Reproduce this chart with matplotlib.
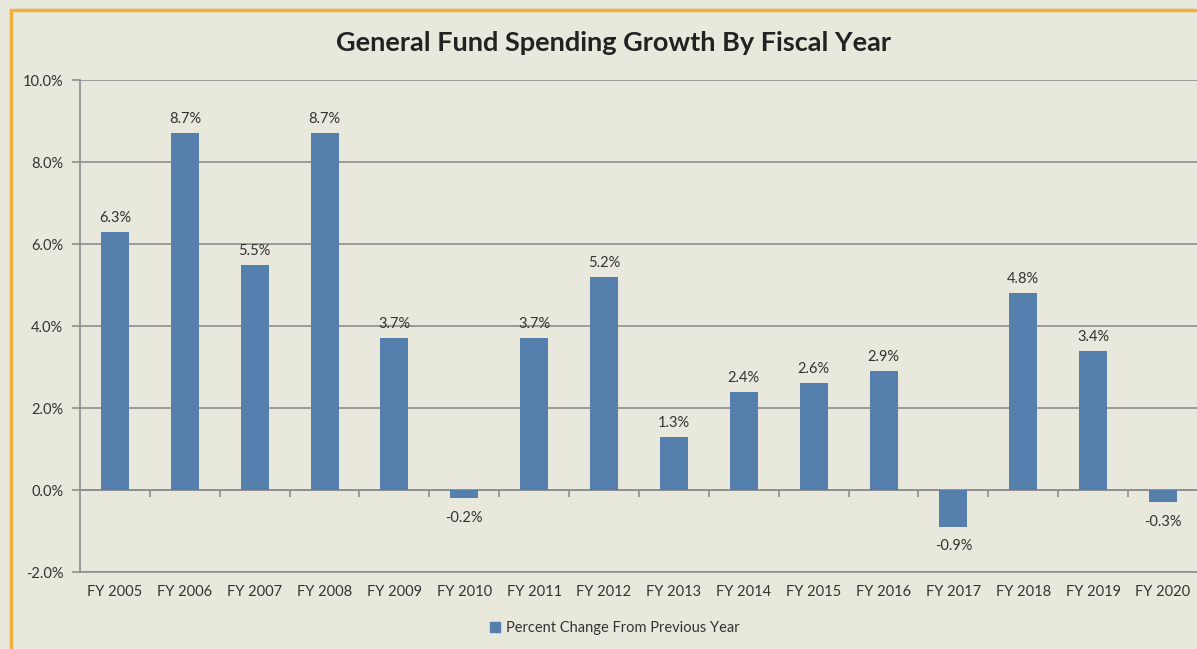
import matplotlib
matplotlib.use("Agg")
import matplotlib.pyplot as plt
from matplotlib.patches import Rectangle
from matplotlib.ticker import FuncFormatter
import numpy as np

years = ["FY 2005", "FY 2006", "FY 2007", "FY 2008", "FY 2009", "FY 2010",
         "FY 2011", "FY 2012", "FY 2013", "FY 2014", "FY 2015", "FY 2016",
         "FY 2017", "FY 2018", "FY 2019", "FY 2020"]
growth = [6.3, 8.7, 5.5, 8.7, 3.7, -0.2, 3.7, 5.2, 1.3, 2.4, 2.6, 2.9,
          -0.9, 4.8, 3.4, -0.3]
y_ticks = [-2, 0, 2, 4, 6, 8, 10]

bg = "#E9E8DC"
bar_color = "#5580AD"
grid_color = "#8E8E8E"
text_color = "#333333"

plt.rcParams["font.family"] = ["Lato", "DejaVu Sans"]

fig = plt.figure(figsize=(11.97, 6.49), dpi=100, facecolor=bg)

# orange frame (left and top visible, the rest is cut off)
fig.patches.append(Rectangle((11 / 1197, -0.1), 1.2, 1 - 10 / 649 + 0.1,
                             transform=fig.transFigure, fill=False,
                             edgecolor="#F0B040", linewidth=2.5))

ax = fig.add_axes([80 / 1197, 1 - 572 / 649, 1118 / 1197, (572 - 80) / 649])
ax.set_facecolor(bg)

x = np.arange(len(years))
ax.bar(x, growth, width=0.4, color=bar_color, zorder=3)

ax.set_xlim(-0.5, len(years) - 0.5)
ax.set_ylim(-2, 10)
ax.set_yticks(y_ticks)
ax.yaxis.set_major_formatter(FuncFormatter(lambda v, p: f"{v:.1f}%"))
ax.yaxis.grid(True, color=grid_color, linewidth=1.2, zorder=0)
ax.tick_params(axis="y", length=6, width=1.2, color=grid_color,
               labelsize=10.5, labelcolor=text_color, pad=6)

ax.set_xticks(x)
ax.set_xticklabels(years)
ax.tick_params(axis="x", length=0, labelsize=10.5, labelcolor=text_color, pad=9)

for side in ["top", "right"]:
    ax.spines[side].set_visible(False)
ax.spines["left"].set_color(grid_color)
ax.spines["left"].set_linewidth(1.2)
ax.spines["bottom"].set_color(grid_color)
ax.spines["bottom"].set_linewidth(1.2)

# category axis with tick marks at the zero line
sec = ax.secondary_xaxis(2 / 12)
sec.set_xticks(np.arange(0.5, len(years) - 0.5, 1))
sec.set_xticklabels([])
sec.tick_params(axis="x", length=5, width=1.2, color=grid_color, direction="out")
sec.spines["bottom"].set_color(grid_color)
sec.spines["bottom"].set_linewidth(1.2)

for xi, v in zip(x, growth):
    if v >= 0:
        ax.annotate(f"{v:.1f}%", (xi, v), xytext=(0, 5), textcoords="offset points",
                    ha="center", va="bottom", fontsize=10.5, color=text_color)
    else:
        ax.annotate(f"{v:.1f}%", (xi, v), xytext=(0, -9), textcoords="offset points",
                    ha="center", va="top", fontsize=10.5, color=text_color)

fig.text(614 / 1197, 1 - 43 / 649, "General Fund Spending Growth By Fiscal Year",
         ha="center", va="center", fontsize=19.5, fontweight="bold", color="#222222")

handle = Rectangle((0, 0), 1, 1, color=bar_color)
fig.legend([handle], ["Percent Change From Previous Year"], loc="center",
           bbox_to_anchor=(615 / 1197, 1 - 628 / 649), frameon=False,
           fontsize=10.5, handlelength=0.7, handleheight=0.7, handletextpad=0.4,
           labelcolor=text_color)

fig.savefig("out.png", dpi=100, facecolor=bg)
